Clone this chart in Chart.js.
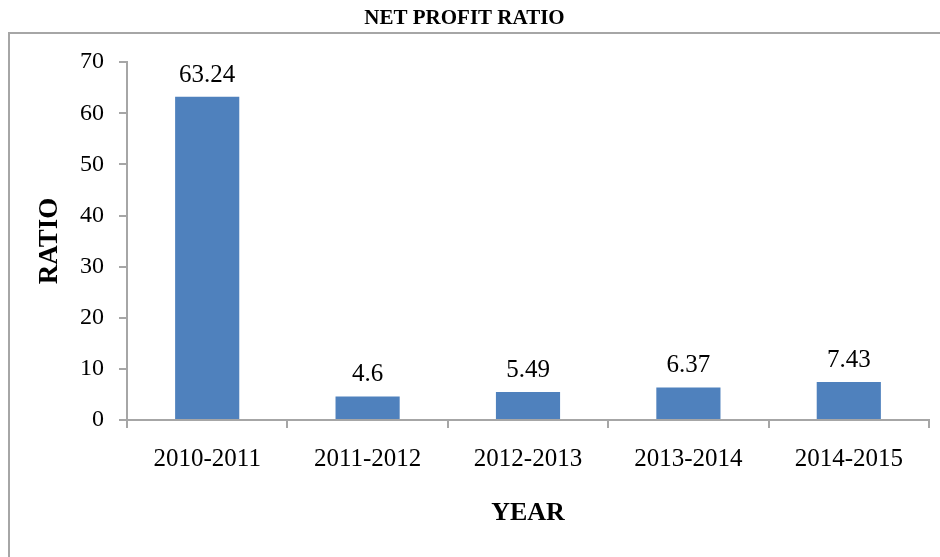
<!DOCTYPE html>
<html>
<head>
<meta charset="utf-8">
<script src="https://cdn.jsdelivr.net/npm/chart.js@4.4.1/dist/chart.umd.min.js"></script>
<style>
  html, body { margin: 0; padding: 0; background: #fff; }
  #wrap { width: 940px; height: 557px; }
</style>
</head>
<body>
<div id="wrap"><canvas id="ratioChart"></canvas></div>
<script>
// chart data
const years = ['2010-2011', '2011-2012', '2012-2013', '2013-2014', '2014-2015'];
const ratios = [63.24, 4.6, 5.49, 6.37, 7.43];
const yTicks = [0, 10, 20, 30, 40, 50, 60, 70];

const serif = '"Liberation Serif", "Times New Roman", serif';
const axisGrey = '#a6a6a6';

// frame around the plot (left + top only, like the source)
const framePlugin = {
  id: 'frame',
  beforeDraw(chart) {
    const ctx = chart.ctx;
    ctx.save();
    ctx.fillStyle = axisGrey;
    ctx.fillRect(8, 32, 932, 2);
    ctx.fillRect(8, 32, 2, 525);
    ctx.restore();
  }
};

// value labels on top of bars
const valueLabels = {
  id: 'valueLabels',
  afterDatasetsDraw(chart) {
    const ctx = chart.ctx;
    const meta = chart.getDatasetMeta(0);
    ctx.save();
    ctx.font = '25px ' + serif;
    ctx.fillStyle = '#000';
    ctx.textAlign = 'center';
    ctx.textBaseline = 'alphabetic';
    meta.data.forEach((bar, i) => {
      ctx.fillText(String(ratios[i]), bar.x, bar.y - 15);
    });
    ctx.restore();
  }
};

const ratioConfig = {
  type: 'bar',
  data: {
    labels: years,
    datasets: [{
      label: 'Net Profit Ratio',
      data: ratios,
      backgroundColor: '#4f81bd',
      borderWidth: 0,
      barPercentage: 0.4,
      categoryPercentage: 1.0
    }]
  },
  options: {
    responsive: true,
    maintainAspectRatio: false,
    animation: false,
    layout: { padding: { left: 0, right: 11, top: 0, bottom: 0 } },
    plugins: {
      legend: { display: false },
      tooltip: { enabled: false },
      title: {
        display: true,
        text: 'NET PROFIT RATIO',
        color: '#000',
        font: { family: serif, size: 21, weight: 'bold' },
        padding: { top: 6, bottom: 31 }
      }
    },
    scales: {
      x: {
        grid: {
          display: true,
          offset: true,
          drawOnChartArea: false,
          drawTicks: true,
          tickLength: 8,
          color: axisGrey,
          lineWidth: 2
        },
        border: { display: true, color: axisGrey, width: 2 },
        ticks: {
          color: '#000',
          font: { family: serif, size: 25 },
          padding: 16,
          maxRotation: 0
        },
        title: {
          display: true,
          text: 'YEAR',
          color: '#000',
          font: { family: serif, size: 26, weight: 'bold' },
          padding: { top: 0, bottom: 28 }
        },
        afterFit(scale) { scale.height = 137; }
      },
      y: {
        min: 0,
        max: 70,
        afterBuildTicks(scale) {
          scale.ticks = yTicks.map(v => ({ value: v }));
        },
        grid: {
          display: true,
          drawOnChartArea: false,
          drawTicks: true,
          tickLength: 8,
          color: axisGrey,
          lineWidth: 2
        },
        border: { display: true, color: axisGrey, width: 2 },
        ticks: {
          color: '#000',
          font: { family: serif, size: 24 },
          padding: 15
        },
        title: {
          display: true,
          text: 'RATIO',
          color: '#000',
          font: { family: serif, size: 27, weight: 'bold' },
          padding: { top: 34, bottom: 0 }
        },
        afterFit(scale) { scale.width = 127; }
      }
    }
  },
  plugins: [framePlugin, valueLabels]
};

const ratioChart = new Chart(document.getElementById('ratioChart'), ratioConfig);
</script>
</body>
</html>
